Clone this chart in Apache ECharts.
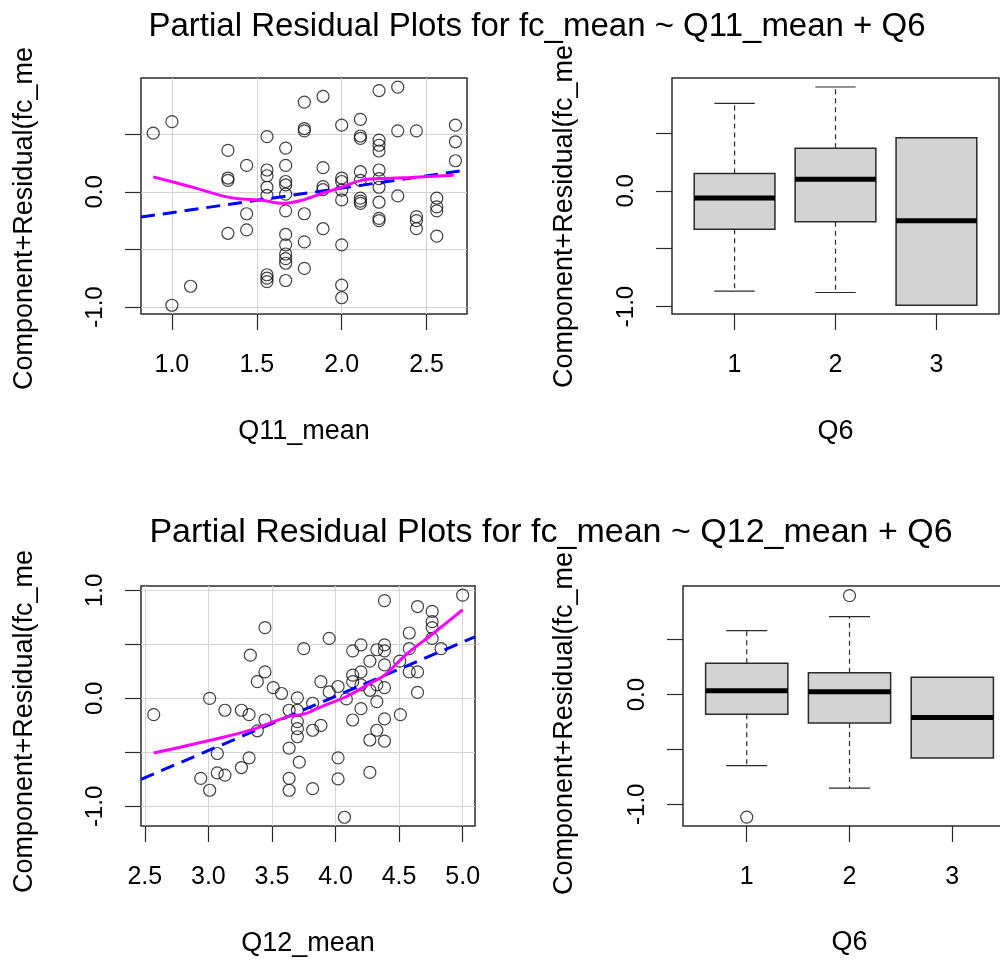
<!DOCTYPE html>
<html>
<head>
<meta charset="utf-8">
<script src="https://cdn.jsdelivr.net/npm/echarts@6/dist/echarts.min.js"></script>
<style>
  html, body { margin: 0; padding: 0; background: #fff; }
  #main { width: 1000px; height: 965px; }
</style>
</head>
<body>
<div id="main"></div>
<script>
// Q11 panel: residual points [Q11_mean, component+residual]
const q11Points = [
  [0.89, 0.51],
  [1.0, 0.61], [1.0, -0.985],
  [1.11, -0.82],
  [1.33, 0.36], [1.33, 0.12], [1.33, 0.10], [1.33, -0.36],
  [1.44, 0.23], [1.44, -0.19], [1.44, -0.33],
  [1.56, 0.48], [1.56, 0.19], [1.56, 0.14], [1.56, 0.04], [1.56, -0.03], [1.56, -0.72], [1.56, -0.75], [1.56, -0.78],
  [1.67, 0.38], [1.67, 0.23], [1.67, 0.09], [1.67, 0.06], [1.67, -0.02], [1.67, -0.165], [1.67, -0.37],
  [1.67, -0.46], [1.67, -0.54], [1.67, -0.58], [1.67, -0.62], [1.67, -0.77],
  [1.78, 0.78], [1.78, 0.55], [1.78, 0.53], [1.78, -0.19], [1.78, -0.435], [1.78, -0.665],
  [1.89, 0.83], [1.89, 0.21], [1.89, 0.045], [1.89, 0.02], [1.89, -0.32],
  [2.0, 0.58], [2.0, 0.12], [2.0, 0.09], [2.0, 0.015], [2.0, -0.07], [2.0, -0.46], [2.0, -0.81], [2.0, -0.92],
  [2.11, 0.63], [2.11, 0.485], [2.11, 0.465], [2.11, 0.175], [2.11, 0.10], [2.11, -0.055], [2.11, -0.08], [2.11, -0.10],
  [2.22, 0.88], [2.22, 0.45], [2.22, 0.405], [2.22, 0.355], [2.22, 0.19], [2.22, 0.115], [2.22, 0.04], [2.22, -0.09],
  [2.22, -0.23], [2.22, -0.25],
  [2.33, 0.91], [2.33, 0.53], [2.33, -0.035],
  [2.44, 0.53], [2.44, -0.215], [2.44, -0.25], [2.44, -0.32],
  [2.56, -0.055], [2.56, -0.13], [2.56, -0.165], [2.56, -0.385],
  [2.67, 0.58], [2.67, 0.435], [2.67, 0.27]
];
const q11Fit = [[0.818, -0.219], [2.738, 0.19]];
const q11Smooth = [
  [0.89, 0.13], [1.11, 0.045], [1.345, -0.05], [1.54, -0.075], [1.65, -0.10], [1.76, -0.075],
  [1.88, -0.015], [2.0, 0.04], [2.115, 0.10], [2.22, 0.115], [2.41, 0.125], [2.66, 0.145]
];

// Q12 panel
const q12Points = [
  [2.57, -0.15], [3.01, 0.0], [2.94, -0.74], [3.01, -0.85], [3.07, -0.51], [3.07, -0.69], [3.13, -0.71],
  [3.13, -0.11], [3.26, -0.11], [3.32, -0.15], [3.26, -0.64], [3.32, -0.55], [3.33, 0.40], [3.445, 0.655],
  [3.445, 0.245], [3.385, 0.155], [3.51, 0.10], [3.575, 0.045], [3.445, -0.20], [3.385, -0.30],
  [3.635, -0.11], [3.635, -0.46], [3.635, -0.74], [3.635, -0.85],
  [3.70, 0.005], [3.70, -0.11], [3.70, -0.215], [3.70, -0.28], [3.70, -0.355], [3.715, -0.59],
  [3.75, 0.46], [3.95, 0.555], [3.885, 0.155], [3.95, 0.06], [4.02, 0.11], [3.82, -0.045], [3.885, -0.25],
  [3.82, -0.295], [3.82, -0.835], [4.02, -0.55], [4.02, -0.745], [4.07, -1.10], [4.085, -0.005],
  [4.135, 0.44], [4.20, 0.495], [4.135, 0.215], [4.135, 0.155], [4.20, 0.245], [4.20, 0.125],
  [4.135, -0.20], [4.20, -0.095], [4.27, 0.345], [4.27, 0.075], [4.27, -0.385], [4.27, -0.685],
  [4.325, 0.45], [4.385, 0.495], [4.385, 0.44], [4.325, 0.125], [4.325, -0.03], [4.325, -0.295],
  [4.385, 0.31], [4.385, 0.10], [4.385, -0.19], [4.385, -0.395], [4.385, 0.905],
  [4.51, -0.15], [4.505, 0.345], [4.58, 0.605], [4.58, 0.46], [4.58, 0.245], [4.645, 0.245],
  [4.645, 0.055], [4.645, 0.85], [4.76, 0.805], [4.76, 0.71], [4.76, 0.655], [4.76, 0.555],
  [4.83, 0.46], [5.0, 0.955]
];
const q12Fit = [[2.47, -0.749], [5.097, 0.57]];
const q12Smooth = [
  [2.57, -0.505], [3.015, -0.387], [3.33, -0.294], [3.62, -0.171], [3.77, -0.139], [3.886, -0.078],
  [4.083, 0.015], [4.294, 0.154], [4.387, 0.216], [4.559, 0.409], [4.77, 0.603], [5.0, 0.82]
];

// Q6 boxplots: [group, lower whisker, Q1, median, Q3, upper whisker]
const q6BoxTop = [
  [1, -0.867, -0.332, -0.061, 0.15, 0.758],
  [2, -0.879, -0.266, 0.101, 0.37, 0.899],
  [3, -0.989, -0.989, -0.258, 0.46, 0.46]
];
const q6BoxBottom = [
  [1, -0.647, -0.179, 0.036, 0.286, 0.583],
  [2, -0.853, -0.26, 0.027, 0.2, 0.71],
  [3, -0.579, -0.579, -0.209, 0.158, 0.158]
];
const q6OutBottom = [[1, -1.117], [2, 0.902]];

const q6Ticks = [1, 2, 3];
const q11Ticks = [1.0, 1.5, 2.0, 2.5];
const q12Ticks = [2.5, 3.0, 3.5, 4.0, 4.5, 5.0];
const yTicksTop = [-1.0, -0.5, 0.0, 0.5];
const yTicksQ12 = [-1.0, -0.5, 0.0, 0.5, 1.0];
const yLabels = [-1.0, 0.0];
const yLabelsQ12 = [-1.0, 0.0, 1.0];

const FONT = '"Liberation Sans", Arial, sans-serif';
const INK = '#2b2b2b';

function xAxisOf(gi, min, max, ticks, name, grid, digits) {
  return {
    type: 'value', gridIndex: gi, min: min, max: max,
    name: name, nameLocation: 'middle', nameGap: 104,
    nameTextStyle: { fontSize: 27, color: '#000', fontFamily: FONT },
    axisLine: { show: false, onZero: false },
    axisTick: { show: true, customValues: ticks, length: 16, lineStyle: { color: INK, width: 1.2 } },
    axisLabel: {
      customValues: ticks, margin: 39, fontSize: 25, color: '#000', fontFamily: FONT,
      formatter: function (v) { return v.toFixed(digits); }
    },
    splitLine: { show: grid, lineStyle: { color: '#d3d3d3', width: 1 } }
  };
}

function yAxisOf(gi, min, max, ticks, labels, grid) {
  return {
    type: 'value', gridIndex: gi, min: min, max: max,
    axisLine: { show: false, onZero: false },
    axisTick: { show: true, customValues: ticks, length: 16, lineStyle: { color: INK, width: 1.2 } },
    axisLabel: {
      customValues: labels, rotate: 90, margin: 34, fontSize: 24, color: '#000', fontFamily: FONT,
      formatter: function (v) { return v.toFixed(1); }
    },
    splitLine: { show: grid, lineStyle: { color: '#d3d3d3', width: 1 } }
  };
}

function renderBox(params, api) {
  const x = api.value(0);
  const lo = api.value(1), q1 = api.value(2), med = api.value(3), q3 = api.value(4), hi = api.value(5);
  const c = api.coord([x, med]);
  const pLo = api.coord([x, lo]), pQ1 = api.coord([x, q1]), pQ3 = api.coord([x, q3]), pHi = api.coord([x, hi]);
  const half = api.size([0.4, 0])[0];
  const cap = api.size([0.2, 0])[0];
  const kids = [];
  const dash = { stroke: INK, lineWidth: 1.2, lineDash: [5, 4] };
  const solid = { stroke: INK, lineWidth: 1.2 };
  if (hi > q3) {
    kids.push({ type: 'line', shape: { x1: c[0], y1: pQ3[1], x2: c[0], y2: pHi[1] }, style: dash });
    kids.push({ type: 'line', shape: { x1: c[0] - cap, y1: pHi[1], x2: c[0] + cap, y2: pHi[1] }, style: solid });
  }
  if (lo < q1) {
    kids.push({ type: 'line', shape: { x1: c[0], y1: pQ1[1], x2: c[0], y2: pLo[1] }, style: dash });
    kids.push({ type: 'line', shape: { x1: c[0] - cap, y1: pLo[1], x2: c[0] + cap, y2: pLo[1] }, style: solid });
  }
  kids.push({
    type: 'rect',
    shape: { x: c[0] - half, y: pQ3[1], width: half * 2, height: pQ1[1] - pQ3[1] },
    style: { fill: '#d3d3d3', stroke: INK, lineWidth: 1.5 }
  });
  kids.push({ type: 'line', shape: { x1: c[0] - half, y1: c[1], x2: c[0] + half, y2: c[1] }, style: { stroke: '#000', lineWidth: 5 } });
  return { type: 'group', children: kids };
}

const circle = { color: 'rgba(0,0,0,0)', borderColor: '#111', borderWidth: 1.2 };

function pointSeries(i, data) {
  return {
    type: 'scatter', xAxisIndex: i, yAxisIndex: i, data: data,
    symbol: 'circle', symbolSize: 12, itemStyle: circle, silent: true, z: 2
  };
}
function fitSeries(i, data) {
  return {
    type: 'line', xAxisIndex: i, yAxisIndex: i, data: data, showSymbol: false, symbol: 'none',
    lineStyle: { color: '#0000ff', width: 3, type: [14, 8] }, silent: true, z: 3
  };
}
function smoothSeries(i, data) {
  return {
    type: 'line', xAxisIndex: i, yAxisIndex: i, data: data, showSymbol: false, symbol: 'none', smooth: 0.35,
    lineStyle: { color: '#ff00ff', width: 3 }, silent: true, z: 4
  };
}
function boxSeries(i, data) {
  return {
    type: 'custom', xAxisIndex: i, yAxisIndex: i, data: data, renderItem: renderBox,
    encode: { x: 0, y: [1, 2, 3, 4, 5] }, silent: true, z: 2
  };
}

function yTitle(x, y) {
  return {
    type: 'text', x: x, y: y, rotation: Math.PI / 2,
    style: {
      text: 'Component+Residual(fc_me', fill: '#000', font: '27px ' + FONT,
      textAlign: 'left', textVerticalAlign: 'middle'
    }
  };
}
function mainTitle(text, x, y, size) {
  return {
    type: 'text', x: x, y: y,
    style: { text: text, fill: '#000', font: size + 'px ' + FONT, textAlign: 'center', textVerticalAlign: 'middle' }
  };
}

const border = { show: true, borderColor: INK, borderWidth: 1.5, backgroundColor: 'transparent' };

const option = {
  animation: false,
  backgroundColor: '#fff',
  grid: [
    Object.assign({ left: 141, top: 78, width: 326, height: 236 }, border),
    Object.assign({ left: 672, top: 78, width: 327, height: 236 }, border),
    Object.assign({ left: 141, top: 586, width: 334, height: 240 }, border),
    // the right panel runs past the picture edge, its frame is cut off there
    Object.assign({ left: 683, top: 586, width: 317, height: 240 }, border, { borderColor: 'transparent' })
  ],
  xAxis: [
    xAxisOf(0, 0.818, 2.738, q11Ticks, 'Q11_mean', true, 1),
    xAxisOf(1, 0.38, 3.62, q6Ticks, 'Q6', false, 0),
    xAxisOf(2, 2.47, 5.097, q12Ticks, 'Q12_mean', true, 1),
    xAxisOf(3, 0.38, 3.464, q6Ticks, '', false, 0)
  ],
  yAxis: [
    yAxisOf(0, -1.061, 0.989, yTicksTop, yLabels, true),
    yAxisOf(1, -1.065, 0.977, yTicksTop, yLabels, false),
    yAxisOf(2, -1.181, 1.04, yTicksQ12, yLabelsQ12, true),
    yAxisOf(3, -1.198, 0.99, yTicksTop, yLabels, false)
  ],
  series: [
    pointSeries(0, q11Points),
    fitSeries(0, q11Fit),
    smoothSeries(0, q11Smooth),
    boxSeries(1, q6BoxTop),
    pointSeries(2, q12Points),
    fitSeries(2, q12Fit),
    smoothSeries(2, q12Smooth),
    boxSeries(3, q6BoxBottom),
    pointSeries(3, q6OutBottom)
  ],
  graphic: [
    mainTitle('Partial Residual Plots for fc_mean ~ Q11_mean + Q6', 537, 27, 33),
    mainTitle('Partial Residual Plots for fc_mean ~ Q12_mean + Q6', 551, 533, 34),
    yTitle(25, 390),
    yTitle(565, 388),
    yTitle(25, 893),
    yTitle(565, 895),
    // frame of the cut-off panel: left, top and bottom sides only
    {
      type: 'polyline', silent: true,
      shape: { points: [[1001, 586], [683, 586], [683, 826], [1001, 826]] },
      style: { stroke: INK, lineWidth: 1.5, fill: null }
    },
    {
      type: 'text', x: 849.5, y: 943,
      style: { text: 'Q6', fill: '#000', font: '27px ' + FONT, textAlign: 'center', textVerticalAlign: 'middle' }
    }
  ]
};

const mychart = echarts.init(document.getElementById('main'));
mychart.setOption(option);
</script>
</body>
</html>
